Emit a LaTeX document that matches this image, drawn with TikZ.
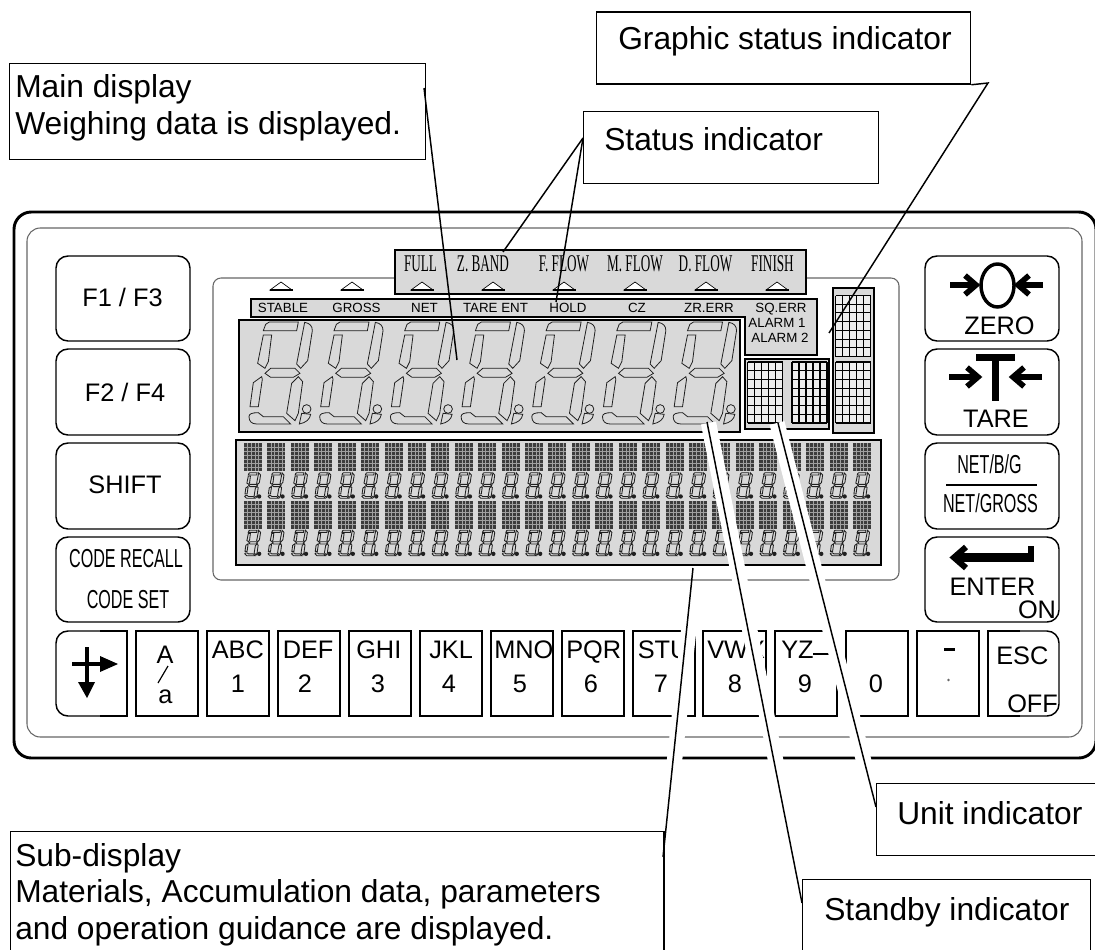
\documentclass[tikz,border=0pt]{standalone}
\usepackage{fontspec}
\setmainfont{Liberation Sans}
\newfontfamily\cndf[FakeStretch=0.62]{Liberation Sans}
\newfontfamily\serf[FakeStretch=0.55]{Liberation Serif}
\newcommand{\bigf}{\fontsize{23.8pt}{28pt}\selectfont}
\newcommand{\keyf}{\fontsize{19pt}{22pt}\selectfont}
\newcommand{\cndk}{\cndf\fontsize{19.5pt}{22pt}\selectfont}
\newcommand{\serb}{\serf\fontsize{18pt}{20pt}\selectfont}
\newcommand{\smf}{\fontsize{10pt}{12pt}\selectfont}
\definecolor{lcd}{HTML}{D9D9D9}
\definecolor{seg}{HTML}{202020}
\definecolor{dots}{HTML}{3C3C3C}
\definecolor{dotl}{HTML}{A0A0A0}
\definecolor{frame}{HTML}{666666}
\newcommand{\segdigit}{%
  \draw (190,212) -- (197,193) -- (208,186) -- (295,186) -- (290,212) -- cycle;
  \draw (314,187) .. controls (330,190) and (337,198) .. (337,212) -- (323,302) -- (302,325) -- (290,312) -- cycle;
  \draw (190,225) -- (215,225) -- (205,305) -- (195,325) -- (173,310) -- cycle;
  \draw (195,340) -- (212,325) -- (285,325) -- (300,340) -- (280,352) -- (212,352) -- cycle;
  \draw (185,350) -- (187,358) -- (175,440) -- (150,440) -- (160,368) -- cycle;
  \draw (295,350) -- (308,365) -- (295,460) -- (285,482) -- (260,460) -- (275,370) -- cycle;
  \draw (147,470) .. controls (147,462) and (155,458) .. (175,458) -- (190,470) -- (250,470) -- (272,492) -- (170,492) .. controls (155,492) and (147,484) .. (147,470) -- cycle;
}
\newcommand{\segdot}{%
  \draw (320,447) circle (13);
  \draw (305,460) -- (332,463) .. controls (330,478) and (318,488) .. (298,492) -- cycle;
}
\newcommand{\dotgrid}[2]{% x,y of top-left, 35x61 block
  \begin{scope}[shift={(#1,#2)}]
    \fill[white!55!lcd] (0,0) rectangle (35,61);
    \foreach \gi in {0,...,5} {\draw[line width=0.8pt] (\gi*7,0) -- (\gi*7,61);}
    \foreach \gj in {0,...,7} {\draw[line width=0.8pt] (0,\gj*8.71) -- (35,\gj*8.71);}
  \end{scope}
}
\newcommand{\tinygrid}[2]{%
  \fill[dots] (#1,#2) rectangle ++(18,28);
  \foreach \gi in {1,2,3,4} {\draw[dotl,line width=0.4pt] (#1+\gi*3.6,#2) -- (#1+\gi*3.6,#2+28);}
  \foreach \gj in {1,...,6} {\draw[dotl,line width=0.4pt] (#1,#2+\gj*4) -- (#1+18,#2+\gj*4);}
}
\tikzset{
  bw/.style={anchor=base west,inner sep=0pt,font=\keyf},
  bc/.style={anchor=base,inner sep=0pt,font=\keyf},
  small/.style={anchor=base,inner sep=0pt,font=\smf},
  band/.style={anchor=base,inner sep=0pt,font=\serb},
  big/.style={anchor=base west,inner sep=0pt,font=\bigf},
  lcdbox/.style={draw=black,fill=lcd,line width=1.4pt},
  keybox/.style={draw=black,line width=1.1pt,rounded corners=9pt},
  sqkey/.style={draw=black,line width=1.1pt},
  tri/.style={fill=white,draw=black,line width=0.5pt},
  icon/.style={line width=4.2pt,line cap=butt,line join=miter},
  callout/.style={draw=black,fill=white,line width=0.95pt,anchor=north west,inner sep=0pt},
  leader/.style={draw=black,line width=1.1pt},
  halo/.style={draw=white,line width=11.5pt},
}
\begin{document}
\begin{tikzpicture}[x=0.75pt,y=-0.75pt]
\useasboundingbox (0,0) rectangle (1095,949);
\clip (0,0) rectangle (1095,949);
\fill[white] (0,0) rectangle (1095,949);
% device frame
\draw[black,line width=2.2pt,rounded corners=13pt] (14,212) rectangle (1096,758);
\draw[frame,line width=0.8pt,rounded corners=10pt] (27,228) rectangle (1082,737);
\draw[frame,line width=0.8pt,rounded corners=6pt] (213,278) rectangle (899,580);
% lcd areas
\draw[lcdbox] (395,250) rectangle (806,294);
\draw[lcdbox] (251,299) -- (817,299) -- (817,355) -- (745,355) -- (745,317) -- (251,317) -- cycle;
\draw[lcdbox] (239,320) rectangle (740,432);
\draw[lcdbox] (745,359) rectangle (829,429);
\draw[lcdbox] (833,288) rectangle (874,433);
\draw[lcdbox] (236,440) rectangle (881,565);
% triangles
\foreach \tx in {281,352,422,493,564,635,706,777} {
  \draw[tri] (\tx,282) -- (\tx+11,290) -- (\tx-11,290) -- cycle;
  \draw[black,line width=1.1pt] (\tx-11.5,290) -- (\tx+11.5,290);
}
% band labels
\node[band] (sfull) at (420.5,271) {FULL};
\node[band] (szband) at (483,271) {Z. BAND};
\node[band] (sfflow) at (564,271) {F. FLOW};
\node[band] (smflow) at (635,271) {M. FLOW};
\node[band] (sdflow) at (705.5,271) {D. FLOW};
\node[band] (sfinish) at (772.5,271) {FINISH};
% status row
\node[small] (rstable) at (283,312) {STABLE};
\node[small] (rgross) at (356.5,312) {GROSS};
\node[small] (rnet) at (424.5,312) {NET};
\node[small] (rtare) at (495.5,312) {TARE ENT};
\node[small] (rhold) at (568,312) {HOLD};
\node[small] (rcz) at (637,312) {CZ};
\node[small] (rzr) at (709,312) {ZR.ERR};
\node[small] (rsq) at (781,312) {SQ.ERR};
\node[small] (ral1) at (777,327) {ALARM 1};
\node[small] (ral2) at (780,342) {ALARM 2};
% main digits
\foreach \di in {0,...,6} {
  \begin{scope}[shift={({200+70.7*\di},260)},scale=0.3333,draw=seg,line width=0.6pt]
    \segdigit\segdot
  \end{scope}
}
% sub-display
\foreach \ci in {0,...,26} {
  \pgfmathsetmacro{\cx}{244+23.42*\ci}
  \tinygrid{\cx}{443}
  \tinygrid{\cx}{500.5}
  \begin{scope}[shift={({\cx-11.5},457.3)},scale=0.0833,draw=seg,line width=0.65pt]
    \segdigit
    \fill[seg] (320,470) circle (26);
  \end{scope}
  \begin{scope}[shift={({\cx-11.5},514.7)},scale=0.0833,draw=seg,line width=0.65pt]
    \segdigit
    \fill[seg] (320,470) circle (26);
  \end{scope}
}
% unit + standby matrices
\dotgrid{747.5}{362}
\dotgrid{792}{362}
\dotgrid{835.5}{295.5}
\dotgrid{835.5}{362}
% left keys
\draw[keybox] (56,256) rectangle (190,341);
\draw[keybox] (56,349) rectangle (190,435);
\draw[keybox] (56,443) rectangle (190,529);
\draw[keybox] (56,537) rectangle (190,622);
\node[bc] (kf1) at (122.5,306) {F1 / F3};
\node[bc] (kf2) at (125,401) {F2 / F4};
\node[bc] (kshift) at (125,493) {SHIFT};
\node[bc,font=\cndk] (kcr) at (126,567) {CODE RECALL};
\node[bc,font=\cndk] (kcs) at (128,608) {CODE SET};
% right keys
\draw[keybox] (925,256) rectangle (1059,341);
\draw[keybox] (925,349) rectangle (1059,435);
\draw[keybox] (925,443) rectangle (1059,529);
\draw[keybox] (925,537) rectangle (1059,622);
\node[bc] (kzero) at (999.5,334) {ZERO};
\node[bc] (ktare) at (996,427) {TARE};
\node[bc,font=\cndk] (knb) at (989.5,473) {NET/B/G};
\node[bc,font=\cndk] (kng) at (990.5,512) {NET/GROSS};
\draw[black,line width=0.8pt] (946,485) -- (1037,485);
\node[bc] (kent) at (992.5,595) {ENTER};
\node[bc] (kon) at (1037,618) {ON};
% zero icon
\draw[black,line width=2.6pt] (997.5,285.5) ellipse (16.5 and 21.5);
\draw[icon] (950,285) -- (975,285);
\draw[icon] (965,275.5) -- (976,285) -- (965,294.5);
\draw[icon] (1043,285) -- (1019,285);
\draw[icon] (1029,275.5) -- (1018,285) -- (1029,294.5);
% tare icon
\fill[black] (976,354) rectangle (1015,361);
\fill[black] (992,354) rectangle (999,401);
\draw[icon] (949,377) -- (977,377);
\draw[icon] (967,367.5) -- (978,377) -- (967,386.5);
\draw[icon] (1042,377) -- (1014,377);
\draw[icon] (1024,367.5) -- (1013,377) -- (1024,386.5);
% enter icon
\fill[black] (1028,546) rectangle (1034,562);
\fill[black] (958,553) rectangle (1034,562);
\draw[black,line width=4.5pt,line join=miter] (966,547) -- (954,557.5) -- (966,568);
% bottom row keys
\draw[black,line width=1.1pt,rounded corners=9pt] (100,631) -- (56,631) -- (56,716) -- (100,716);
\draw[black,line width=1.1pt] (100,631) -- (127,631) -- (127,716) -- (100,716);
\draw[sqkey] (136,631) rectangle (198,716);
\foreach \kx in {207,278,349,420,491,562,633} {\draw[sqkey] (\kx,631) rectangle ++(62,85);}
\draw[sqkey] (703,631) rectangle (766,716);
\draw[sqkey] (775,631) rectangle (837,716);
\draw[sqkey] (846,631) rectangle (908,716);
\draw[sqkey] (917,631) rectangle (979,716);
\draw[black,line width=1.1pt,rounded corners=9pt] (1020,631) -- (1059,631) -- (1059,716) -- (1020,716);
\draw[black,line width=1.1pt] (1020,631) -- (988,631) -- (988,716) -- (1020,716);
% arrow key icon
\draw[black,line width=3pt] (87,647) -- (87,684);
\fill[black] (78,682) -- (95,682) -- (87,698) -- cycle;
\draw[black,line width=3pt] (72,664) -- (102,664);
\fill[black] (100,656) -- (118,664) -- (100,672) -- cycle;
% key labels
\node[bc] (ka) at (165,663) {A};
\draw[black,line width=0.9pt] (168,666) -- (158,683);
\node[bc] (kla) at (165.5,703) {a};
\node[bw] (k1) at (211.5,658) {ABC};
\node[bc] (n1) at (238,692) {1};
\node[bw] (k2) at (282.5,658) {DEF};
\node[bc] (n2) at (305,692) {2};
\node[bw] (k3) at (356,658) {GHI};
\node[bc] (n3) at (378,692) {3};
\node[bw] (k4) at (429,658) {JKL};
\node[bc] (n4) at (449,692) {4};
\node[bw] (k5) at (494,658) {MNO};
\node[bc] (n5) at (520,692) {5};
\node[bw] (k6) at (566,658) {PQR};
\node[bc] (n6) at (591,692) {6};
\node[bw] (k7) at (637.5,658) {STU};
\node[bc] (n7) at (661,692) {7};
\node[bw] (k8) at (707,658) {VWX};
\node[bc] (n8) at (735,692) {8};
\node[bw] (k9) at (781,658) {YZ};
\draw[black,line width=0.9pt] (813,654) -- (829,654);
\node[bc] (n9) at (805,692) {9};
\node[bc] (n0) at (876,692) {0};
\fill[black] (944,648) rectangle (955,651);
\fill[frame] (948.5,680) circle (1.4);
\node[bw] (kesc) at (996,664) {ESC};
\node[bw] (koff) at (1007,712) {OFF};
% white casing of the lower leaders
\draw[halo] (708.5,423) -- (776,762);
\draw[halo] (777,423) -- (864,762);
\draw[halo] (692,600) -- (674,765);
% callouts
\node[callout,minimum width=312pt,minimum height=72pt] (mainbox) at (9,63) {};
\node[big] (mt1) at (15,98) {Main display};
\node[big] (mt2) at (15,134) {Weighing data is displayed.};
\node[callout,minimum width=280.5pt,minimum height=54pt] (graphbox) at (596,11.5) {};
\node[big] (gt) at (618,50) {Graphic status indicator};
\node[callout,minimum width=221pt,minimum height=54pt] (statbox) at (583,111) {};
\node[big] (st) at (604,150) {Status indicator};
\node[callout,minimum width=190pt,minimum height=54pt] (unitbox) at (876,783) {};
\node[big] (ut) at (897,824) {Unit indicator};
\node[callout,minimum width=216pt,minimum height=80pt] (stbybox) at (802,879) {};
\node[big] (sbt) at (824,920) {Standby indicator};
\node[callout,minimum width=490pt,minimum height=110pt] (subbox) at (10,831) {};
\node[big] (sb1) at (15,866) {Sub-display};
\node[big] (sb2) at (15,902) {Materials, Accumulation data, parameters};
\node[big] (sb3) at (15,939) {and operation guidance are displayed.};
% leader ends
\coordinate (mainfrom) at (424,88);
\coordinate (mainto) at (457,360);
\coordinate (statfrom) at (583,138);
\coordinate (statA) at (503,252);
\coordinate (statB) at (556,302);
\coordinate (graphelbow) at (988,83);
\coordinate (graphto) at (829,333);
\coordinate (subfrom) at (663,857);
\coordinate (subto) at (693,568);
\coordinate (stbyfrom) at (802,903);
\coordinate (stbyto) at (707,422);
\coordinate (unitfrom) at (876,807);
\coordinate (unitto) at (778,423);
\draw[leader] (mainfrom) -- (mainto);
\draw[leader] (statfrom) -- (statA);
\draw[leader] (statfrom) -- (statB);
\draw[leader] (graphbox.south east) -- (graphelbow) -- (graphto);
\draw[leader] (subfrom) -- (subto);
\draw[leader] (stbyfrom) -- (stbyto);
\draw[leader] (unitfrom) -- (unitto);
\end{tikzpicture}
\end{document}
